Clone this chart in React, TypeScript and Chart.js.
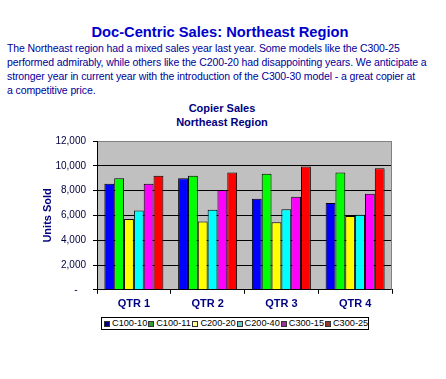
import React, { useEffect, useRef } from "react";
import { Chart, registerables } from "chart.js";

Chart.register(...registerables);

const categories = ["QTR 1", "QTR 2", "QTR 3", "QTR 4"];
const seriesNames = ["C100-10", "C100-11", "C200-20", "C200-40", "C300-15", "C300-25"];
const c100_10 = [8550, 9000, 7350, 7000];
const c100_11 = [9000, 9200, 9350, 9450];
const c200_20 = [5700, 5500, 5450, 5950];
const c200_40 = [6400, 6450, 6500, 6050];
const c300_15 = [8550, 8050, 7500, 7750];
const c300_25 = [9200, 9450, 9950, 9800];
const seriesValues = [c100_10, c100_11, c200_20, c200_40, c300_15, c300_25];
const barColors = ["#0000FF", "#00FF00", "#FFFF00", "#00FFFF", "#FF00FF", "#FF0000"];
const legendColors = ["#000080", "#339933", "#FFFF99", "#66CCCC", "#993399", "#993333"];
const yTicks = [0, 2000, 4000, 6000, 8000, 10000, 12000];

const FONT = "'Liberation Sans', Arial, sans-serif";
const NAVY = "#000080";

const plotDecor = {
  id: "plotDecor",
  beforeDraw(chart: any) {
    const { ctx, chartArea } = chart;
    ctx.save();
    ctx.fillStyle = "#C0C0C0";
    ctx.fillRect(chartArea.left, chartArea.top, chartArea.right - chartArea.left, chartArea.bottom - chartArea.top);
    ctx.restore();
  },
  beforeDatasetsDraw(chart: any) {
    const { ctx, chartArea } = chart;
    ctx.save();
    ctx.strokeStyle = "#808080";
    ctx.lineWidth = 1;
    ctx.beginPath();
    ctx.moveTo(Math.round(chartArea.right) - 0.5, chartArea.top);
    ctx.lineTo(Math.round(chartArea.right) - 0.5, chartArea.bottom);
    ctx.stroke();
    ctx.restore();
  },
};

function SalesChart() {
  const ref = useRef<HTMLCanvasElement>(null);
  useEffect(() => {
    if (!ref.current) return;
    const chart = new Chart(ref.current, {
      type: "bar",
      data: {
        labels: categories,
        datasets: seriesNames.map((name, i) => ({
          label: name,
          data: seriesValues[i],
          backgroundColor: barColors[i],
          borderColor: "#000000",
          borderWidth: 1,
          categoryPercentage: 0.8,
          barPercentage: 1.0,
        })),
      },
      options: {
        animation: false,
        responsive: false,
        maintainAspectRatio: false,
        layout: { padding: { top: 10, right: 12, left: 0, bottom: 0 } },
        plugins: {
          legend: { display: false },
          title: { display: false },
          tooltip: { enabled: false },
        },
        scales: {
          x: {
            grid: {
              drawOnChartArea: false,
              drawTicks: true,
              tickLength: 4,
              tickColor: "#000000",
              offset: true,
            },
            border: { color: "#000000", width: 1 },
            ticks: {
              color: NAVY,
              font: { family: FONT, size: 11, weight: "bold" },
              padding: 4,
            },
          },
          y: {
            min: 0,
            max: 12000,
            afterBuildTicks(scale: any) {
              scale.ticks = yTicks.map((v) => ({ value: v }));
            },
            afterFit(scale: any) {
              scale.width = 57;
            },
            grid: {
              color: (c: any) => (c.tick && c.tick.value === 12000 ? "#808080" : "#000000"),
              tickColor: "#000000",
              tickLength: 4,
            },
            border: { color: "#000000", width: 1 },
            ticks: {
              color: "#000040",
              font: { family: FONT, size: 10 },
              padding: 7,
              callback: (v: any) => (Number(v) === 0 ? "-   " : Number(v).toLocaleString("en-US")),
            },
            title: {
              display: true,
              text: "Units Sold",
              color: NAVY,
              font: { family: FONT, size: 11, weight: "bold" },
              padding: { top: 1, bottom: 0 },
            },
          },
        },
      },
      plugins: [plotDecor],
    });
    return () => chart.destroy();
  }, []);
  return <canvas ref={ref} width={364} height={187} style={{ position: "absolute", left: 40, top: 128, width: 364, height: 187 }} />;
}

export default function App() {
  return (
    <div style={{ position: "fixed", left: 0, top: 0, width: 446, height: 379, background: "#FFFFFF", fontFamily: FONT, overflow: "hidden" }}>
      <div style={{ position: "absolute", left: 0, top: 22, width: 440, textAlign: "center", fontSize: 14.7, fontWeight: "bold", color: "#0000CC", lineHeight: "20px", whiteSpace: "nowrap" }}>
        Doc-Centric Sales: Northeast Region
      </div>
      <div style={{ position: "absolute", left: 7, top: 41, width: 436, fontSize: 10.5, letterSpacing: "-0.1px", color: "#000099", lineHeight: "14px", whiteSpace: "nowrap" }}>
        The Northeast region had a mixed sales year last year. Some models like the C300-25<br />
        performed admirably, while others like the C200-20 had disappointing years. We anticipate a<br />
        stronger year in current year with the introduction of the C300-30 model - a great copier at<br />
        a competitive price.
      </div>
      <div style={{ position: "absolute", left: 122, top: 101, width: 200, textAlign: "center", fontSize: 11, fontWeight: "bold", color: NAVY, lineHeight: "14px" }}>
        Copier Sales<br />Northeast Region
      </div>
      <SalesChart />
      <div style={{ position: "absolute", left: 101, top: 317, width: 264, height: 11, border: "1px solid #000", display: "flex", alignItems: "center", fontSize: 9.2, color: "#000", lineHeight: "11px", paddingLeft: 2, boxSizing: "content-box", whiteSpace: "nowrap" }}>
        {seriesNames.map((n, i) => (
          <span key={n} style={{ display: "flex", alignItems: "center", width: i === 5 ? "auto" : 44.2, flexShrink: 0 }}>
            <span style={{ display: "inline-block", width: 4, height: 4, background: legendColors[i], border: "1px solid #333", marginRight: 2, flexShrink: 0 }} />
            {n}
          </span>
        ))}
      </div>
    </div>
  );
}
